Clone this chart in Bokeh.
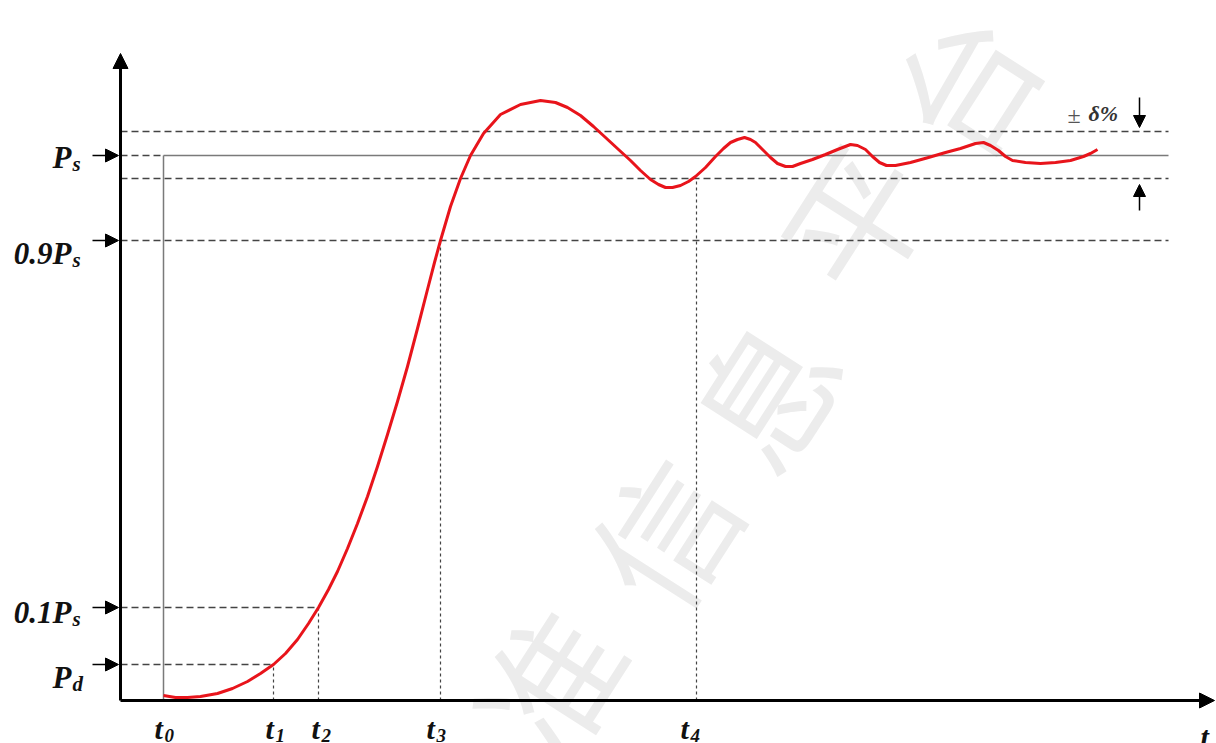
from bokeh.plotting import figure
from bokeh.models import Range1d, Arrow, NormalHead
from bokeh.core.properties import value
from bokeh.embed import file_html
from bokeh.resources import INLINE

# ---- schematic data (units: distance from the axes) ----
level_names = ["P", "0.1P", "0.9P", "P"]
level_subs = ["d", "s", "s", "s"]
level_values = [36, 93, 460, 545]          # Pd, 0.1Ps, 0.9Ps, Ps
label_base = [23, 88, 447, 543]            # text baselines
band_upper = 569
band_lower = 522

time_subs = ["0", "1", "2", "3", "4"]
time_values = [43, 153, 198, 320, 576]     # t0..t4
time_levels = [545, 36, 93, 460, 522]      # height each time-marker reaches

line_end = 1048
x_axis_end = 1094
y_axis_end = 647

curve_t = [43, 55, 67, 80, 97, 112, 127, 140, 153, 165, 177, 188, 198, 208, 217,
           227, 237, 247, 257, 267, 277, 287, 297, 307, 314, 320, 330, 340, 350,
           363, 380, 400, 420, 435, 447, 460, 473, 485, 498, 510, 520, 530, 538,
           545, 552, 560, 568, 575, 585, 595, 603, 610, 617, 624, 630, 635, 642,
           650, 657, 665, 672, 680, 692, 705, 717, 730, 737, 745, 752, 759, 766,
           775, 790, 808, 825, 840, 855, 863, 870, 878, 885, 892, 905, 920, 935,
           950, 963, 970, 977]
curve_p = [5, 3, 3, 4, 7, 12, 19, 27, 36, 47, 61, 77, 93, 111, 129,
           152, 177, 204, 234, 266, 299, 334, 372, 411, 438, 460, 494, 522, 545,
           567, 586, 596, 600, 598, 593, 585, 574, 563, 551, 540, 530, 521, 516,
           513, 513, 515, 519, 524, 533, 544, 552, 558, 561, 563, 561, 558, 551,
           543, 537, 534, 534, 537, 541, 546, 551, 556, 555, 551, 544, 538, 535,
           535, 538, 543, 548, 552, 557, 558, 555, 550, 544, 540, 538, 537, 538,
           540, 544, 547, 551]

watermark_chars = ["准", "信", "息", "平", "台"]
watermark_x = [425, 540, 640, 730, 840]
watermark_y = [20, 170, 310, 485, 620]

p = figure(width=1216, height=743, x_range=Range1d(-120, 1096), y_range=Range1d(-43, 700),
           output_backend="svg", toolbar_location=None, min_border=0,
           x_axis_location=None, y_axis_location=None)
p.grid.visible = False
p.outline_line_color = None
p.background_fill_color = "white"
p.border_fill_color = "white"

# watermark
p.text(x=watermark_x, y=watermark_y, text=watermark_chars, angle=1.0,
       text_font=value("Noto Sans CJK SC"), text_font_size="140px",
       text_color="#ececec", text_align="center", text_baseline="middle")

dash_col = "#444444"
pd_, p01, p09, ps = level_values
t0, t1, t2, t3, t4 = time_values
# horizontal dashed level lines
p.segment(x0=[0, 0, 0, 0, 0, 0], y0=[pd_, p01, p09, band_lower, band_upper, ps],
          x1=[t1, t2, line_end, line_end, line_end, t0],
          y1=[pd_, p01, p09, band_lower, band_upper, ps],
          line_color=dash_col, line_width=1.3, line_dash="7 4")
# vertical dotted time markers
p.segment(x0=time_values[1:], y0=[0] * 4, x1=time_values[1:], y1=time_levels[1:],
          line_color=dash_col, line_width=1.2, line_dash="3 3")
# Ps solid reference and t0 line
p.segment(x0=[t0, t0], y0=[ps, 0], x1=[line_end, t0], y1=[ps, ps],
          line_color="#7a7a7a", line_width=1.5)

# response curve
p.line(curve_t, curve_p, line_color="#e8141b", line_width=3, line_join="round")

# axes with arrows
p.add_layout(Arrow(end=NormalHead(size=15, fill_color="black", line_color="black"),
                   x_start=0, y_start=0, x_end=0, y_end=y_axis_end,
                   line_color="black", line_width=3))
p.add_layout(Arrow(end=NormalHead(size=15, fill_color="black", line_color="black"),
                   x_start=0, y_start=0, x_end=x_axis_end, y_end=0,
                   line_color="black", line_width=3))
# level pointer arrows
for lv in level_values:
    p.add_layout(Arrow(end=NormalHead(size=13, fill_color="black", line_color="black"),
                       x_start=-28, y_start=lv, x_end=-2, y_end=lv,
                       line_color="black", line_width=1.5))
# band arrows
p.add_layout(Arrow(end=NormalHead(size=12, fill_color="black", line_color="black"),
                   x_start=1019, y_start=band_upper + 34, x_end=1019, y_end=band_upper + 4,
                   line_color="black", line_width=1.5))
p.add_layout(Arrow(end=NormalHead(size=12, fill_color="black", line_color="black"),
                   x_start=1019, y_start=band_lower - 32, x_end=1019, y_end=band_lower - 6,
                   line_color="black", line_width=1.5))

serif = value("Liberation Serif")
# level labels
p.text(x=[-49] * 4, y=label_base, text=level_names, text_font=serif,
       text_font_style="bold italic", text_font_size="31px", text_color="#111111",
       text_align="right", text_baseline="alphabetic")
p.text(x=[-48] * 4, y=[b - 6 for b in label_base], text=level_subs, text_font=serif,
       text_font_style="bold italic", text_font_size="21px", text_color="#111111",
       text_align="left", text_baseline="alphabetic")

# time labels
time_label_x = [34, 145, 191, 306, 560]
p.text(x=time_label_x, y=[-28] * 5, text=["t"] * 5, text_font=serif,
       text_font_style="bold italic", text_font_size="30px", text_color="#111111",
       text_align="left", text_baseline="alphabetic")
p.text(x=[x + 10 for x in time_label_x], y=[-35] * 5, text=time_subs, text_font=serif,
       text_font_style="bold italic", text_font_size="19px", text_color="#111111",
       text_align="left", text_baseline="alphabetic")
p.text(x=[1080], y=[-36], text=["t"], text_font=serif,
       text_font_style="bold italic", text_font_size="30px", text_color="#111111",
       text_align="left", text_baseline="alphabetic")

# tolerance label
p.text(x=[947], y=[586], text=["±"], text_font=serif,
       text_font_style="normal", text_font_size="24px", text_color="#555555",
       text_align="left", text_baseline="middle")
p.text(x=[968], y=[587], text=["δ%"], text_font=serif,
       text_font_style="bold italic", text_font_size="22px", text_color="#333333",
       text_align="left", text_baseline="middle")

open("out.html", "w").write(file_html(p, INLINE))
